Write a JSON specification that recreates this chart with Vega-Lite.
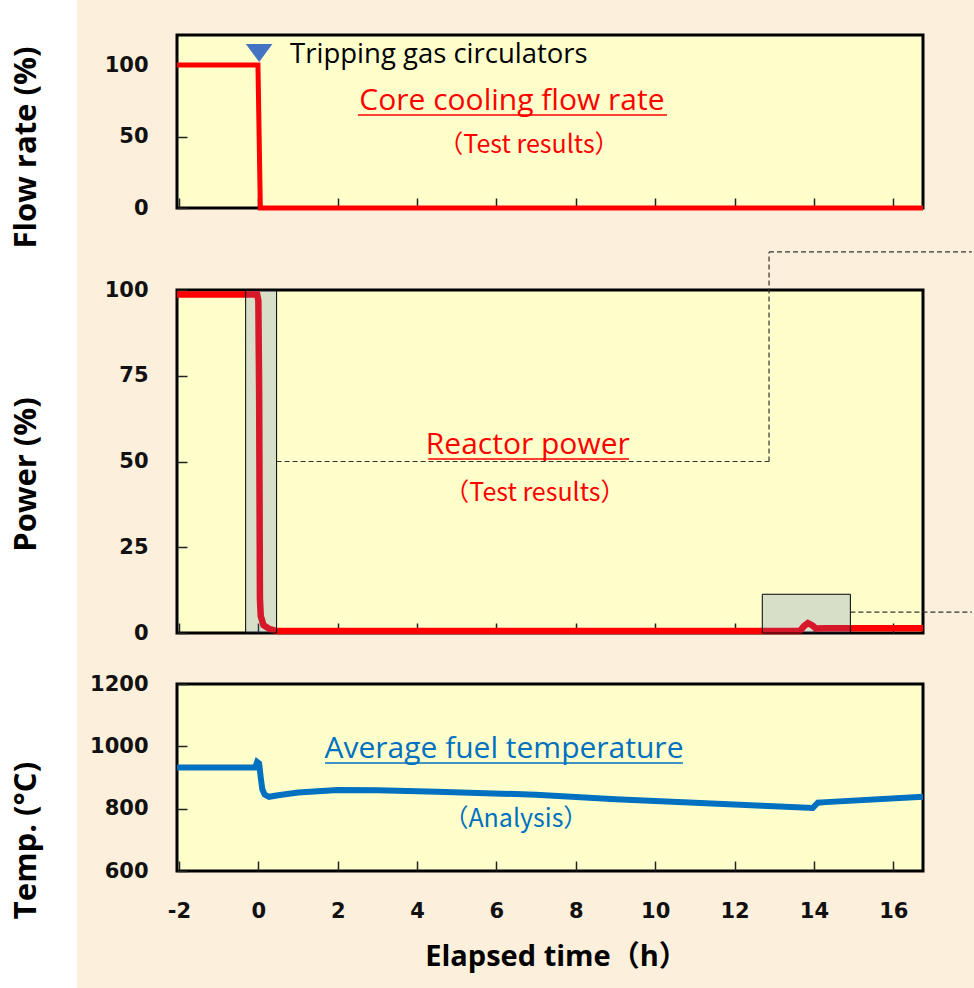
{
  "$schema": "https://vega.github.io/schema/vega-lite/v6.json",
  "padding": 0,
  "datasets": {
    "flow": [{"t": -2.05, "v": 100}, {"t": -0.01, "v": 100}, {"t": 0.05, "v": 0}, {"t": 16.75, "v": 0}],
    "trip": [{"t": 0.02, "v": 108.4}],
    "p1black": [{"t": 0.8, "v": 101.4, "label": "Tripping gas circulators"}],
    "p1big": [{"t": 6.39, "v": 68.5, "label": "Core cooling flow rate"}],
    "p1under": [{"t": 2.51, "t2": 10.3, "v": 65}],
    "p1small": [{"t": 6.82, "v": 38.5, "label": "（Test results）"}],
    "power": [
      {"t": -2.05, "v": 98.7}, {"t": -0.03, "v": 98.7}, {"t": 0.0, "v": 97}, {"t": 0.02, "v": 70},
      {"t": 0.04, "v": 10}, {"t": 0.06, "v": 5}, {"t": 0.13, "v": 2.3}, {"t": 0.29, "v": 1.1},
      {"t": 0.45, "v": 0.6}, {"t": 13.65, "v": 0.6}, {"t": 13.75, "v": 2.0}, {"t": 13.85, "v": 2.9},
      {"t": 13.95, "v": 2.3}, {"t": 14.05, "v": 1.3}, {"t": 14.3, "v": 1.4}, {"t": 16.75, "v": 1.4}
    ],
    "boxes": [{"t": -0.32, "t2": 0.46, "v": 0, "v2": 100}, {"t": 12.7, "t2": 14.92, "v": 0, "v2": 11.3}],
    "dashH": [{"t": 0.46, "t2": 12.87, "v": 50}, {"t": 12.87, "t2": 17.98, "v": 111.1}, {"t": 14.92, "t2": 17.98, "v": 6.1}],
    "dashV": [{"t": 12.87, "v": 50, "v2": 111.1}],
    "p2big": [{"t": 6.79, "v": 52.2, "label": "Reactor power"}],
    "p2under": [{"t": 4.28, "t2": 9.34, "v": 50.7}],
    "p2small": [{"t": 6.97, "v": 38.5, "label": "（Test results）"}],
    "temp": [
      {"t": -2.05, "v": 932}, {"t": -0.08, "v": 932}, {"t": -0.03, "v": 950}, {"t": 0.02, "v": 945},
      {"t": 0.06, "v": 900}, {"t": 0.1, "v": 862}, {"t": 0.16, "v": 845}, {"t": 0.27, "v": 838},
      {"t": 0.5, "v": 843}, {"t": 1.0, "v": 852}, {"t": 2.0, "v": 860}, {"t": 3.0, "v": 859},
      {"t": 4.5, "v": 854}, {"t": 7.0, "v": 845}, {"t": 9.0, "v": 830}, {"t": 11.0, "v": 819},
      {"t": 12.7, "v": 809}, {"t": 13.97, "v": 802}, {"t": 14.1, "v": 819}, {"t": 14.3, "v": 821},
      {"t": 16.75, "v": 838}
    ],
    "p3big": [{"t": 6.19, "v": 962.5, "label": "Average fuel temperature"}],
    "p3under": [{"t": 1.68, "t2": 10.7, "v": 946.5}],
    "p3small": [{"t": 6.49, "v": 741, "label": "（Analysis）"}]
  },
  "hconcat": [
    {
      "width": 77,
      "height": 988,
      "view": {"fill": "#ffffff", "stroke": null},
      "data": {"values": [{}]},
      "mark": {"type": "point", "opacity": 0}
    },
    {
      "vconcat": [
        {
          "width": 746,
          "height": 35,
          "view": {"fill": null, "stroke": null},
          "data": {"values": [{}]},
          "mark": {"type": "point", "opacity": 0}
        },
        {
          "width": 746,
          "height": 173,
          "encoding": {
            "x": {"field": "t", "type": "quantitative", "scale": {"domain": [-2.05, 16.75], "nice": false, "zero": false},
              "axis": {"labels": false, "title": null, "values": [-2, 0, 2, 4, 6, 8, 10, 12, 14, 16]}},
            "y": {"field": "v", "type": "quantitative", "scale": {"domain": [0, 121], "nice": false, "zero": false},
              "axis": {"values": [0, 50, 100], "title": "Flow rate (%)", "titleX": -135, "titleY": 112, "titleAngle": 270, "titleAlign": "center", "titleBaseline": "bottom"}}
          },
          "layer": [
            {"data": {"name": "flow"}, "mark": {"type": "line", "color": "#ff0000", "strokeWidth": 5}},
            {"data": {"name": "trip"}, "mark": {"type": "point", "shape": "M-1,-0.68L1,-0.68L0,0.68Z", "size": 708, "filled": true, "color": "#4472c4", "opacity": 1}},
            {"data": {"name": "p1black"}, "mark": {"type": "text", "align": "left", "baseline": "alphabetic", "font": "Open Sans", "fontSize": 27.5, "color": "#000000"}, "encoding": {"text": {"field": "label"}}},
            {"data": {"name": "p1big"}, "mark": {"type": "text", "align": "center", "baseline": "alphabetic", "font": "Open Sans", "fontSize": 30, "color": "#ff0000"}, "encoding": {"text": {"field": "label"}}},
            {"data": {"name": "p1under"}, "mark": {"type": "rule", "color": "#ff0000", "strokeWidth": 1.5}, "encoding": {"x2": {"field": "t2"}}},
            {"data": {"name": "p1small"}, "mark": {"type": "text", "align": "center", "baseline": "alphabetic", "font": "Noto Sans CJK JP", "fontSize": 25, "color": "#ff0000"}, "encoding": {"text": {"field": "label"}}}
          ]
        },
        {
          "width": 746,
          "height": 82,
          "view": {"fill": null, "stroke": null},
          "data": {"values": [{}]},
          "mark": {"type": "point", "opacity": 0}
        },
        {
          "width": 746,
          "height": 343,
          "encoding": {
            "x": {"field": "t", "type": "quantitative", "scale": {"domain": [-2.05, 16.75], "nice": false, "zero": false},
              "axis": {"labels": false, "title": null, "values": [-2, 0, 2, 4, 6, 8, 10, 12, 14, 16]}},
            "y": {"field": "v", "type": "quantitative", "scale": {"domain": [0, 100], "nice": false, "zero": false},
              "axis": {"values": [0, 25, 50, 75, 100], "title": "Power (%)", "titleX": -135, "titleY": 184, "titleAngle": 270, "titleAlign": "center", "titleBaseline": "bottom"}}
          },
          "layer": [
            {"data": {"name": "power"}, "mark": {"type": "line", "color": "#ff0000", "strokeWidth": 6.5}},
            {"data": {"name": "boxes"}, "mark": {"type": "rect", "fill": "#4a6dbf", "fillOpacity": 0.22, "stroke": "#000000", "strokeWidth": 1}, "encoding": {"x2": {"field": "t2"}, "y2": {"field": "v2"}}},
            {"data": {"name": "dashH"}, "mark": {"type": "rule", "color": "#333333", "strokeWidth": 1.2, "strokeDash": [5, 3]}, "encoding": {"x2": {"field": "t2"}}},
            {"data": {"name": "dashV"}, "mark": {"type": "rule", "color": "#333333", "strokeWidth": 1.2, "strokeDash": [5, 3]}, "encoding": {"y2": {"field": "v2"}}},
            {"data": {"name": "p2big"}, "mark": {"type": "text", "align": "center", "baseline": "alphabetic", "font": "Open Sans", "fontSize": 30, "color": "#ff0000"}, "encoding": {"text": {"field": "label"}}},
            {"data": {"name": "p2under"}, "mark": {"type": "rule", "color": "#ff0000", "strokeWidth": 1.5}, "encoding": {"x2": {"field": "t2"}}},
            {"data": {"name": "p2small"}, "mark": {"type": "text", "align": "center", "baseline": "alphabetic", "font": "Noto Sans CJK JP", "fontSize": 25, "color": "#ff0000"}, "encoding": {"text": {"field": "label"}}}
          ]
        },
        {
          "width": 746,
          "height": 51,
          "view": {"fill": null, "stroke": null},
          "data": {"values": [{}]},
          "mark": {"type": "point", "opacity": 0}
        },
        {
          "width": 746,
          "height": 187,
          "encoding": {
            "x": {"field": "t", "type": "quantitative", "scale": {"domain": [-2.05, 16.75], "nice": false, "zero": false},
              "axis": {"values": [-2, 0, 2, 4, 6, 8, 10, 12, 14, 16], "labelExpr": "'' + datum.value", "title": "Elapsed time（h）", "titleX": 379, "titleY": 94, "titleAngle": 0, "titleAlign": "center", "titleBaseline": "alphabetic", "titleFontSize": 29, "labelBaseline": "top"}},
            "y": {"field": "v", "type": "quantitative", "scale": {"domain": [600, 1200], "nice": false, "zero": false},
              "axis": {"values": [600, 800, 1000, 1200], "format": "d", "title": "Temp. (°C)", "titleX": -135, "titleY": 156, "titleAngle": 270, "titleAlign": "center", "titleBaseline": "bottom"}}
          },
          "layer": [
            {"data": {"name": "temp"}, "mark": {"type": "line", "color": "#0070c0", "strokeWidth": 6}},
            {"data": {"name": "p3big"}, "mark": {"type": "text", "align": "center", "baseline": "alphabetic", "font": "Open Sans", "fontSize": 30, "color": "#0070c0"}, "encoding": {"text": {"field": "label"}}},
            {"data": {"name": "p3under"}, "mark": {"type": "rule", "color": "#0070c0", "strokeWidth": 1.5}, "encoding": {"x2": {"field": "t2"}}},
            {"data": {"name": "p3small"}, "mark": {"type": "text", "align": "center", "baseline": "alphabetic", "font": "Noto Sans CJK JP", "fontSize": 25, "color": "#0070c0"}, "encoding": {"text": {"field": "label"}}}
          ]
        }
      ],
      "spacing": 0,
      "bounds": "flush"
    }
  ],
  "spacing": 100,
  "bounds": "flush",
  "config": {
    "background": "#fcefdb",
    "view": {"fill": "#ffffcc", "stroke": "#000000", "strokeWidth": 3},
    "axis": {
      "domain": false, "grid": false,
      "tickSize": -10, "tickColor": "#222222", "tickWidth": 1.5,
      "labelFont": "DejaVu Sans", "labelFontWeight": "bold", "labelFontSize": 21, "labelColor": "#111111",
      "labelPadding": 39, "labelFlush": false, "labelOverlap": false, "labelBound": false,
      "titleFont": "Open Sans, Noto Sans CJK JP", "titleFontWeight": "bold", "titleFontSize": 31, "titleColor": "#000000"
    }
  }
}
